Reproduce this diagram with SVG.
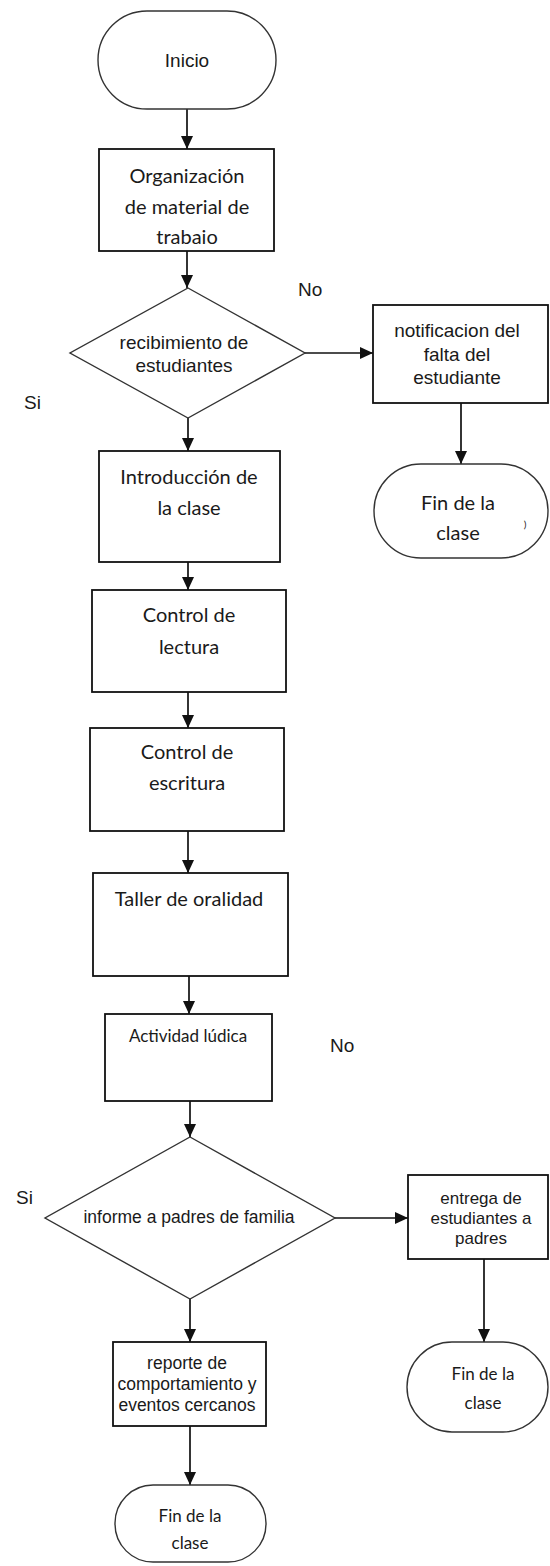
<svg xmlns="http://www.w3.org/2000/svg" width="550" height="1566" viewBox="0 0 550 1566">
<style>
.box{fill:#fff;stroke:#111;stroke-width:1.8}
.dia{fill:#fff;stroke:#333;stroke-width:1.4}
.term{fill:#fff;stroke:#333;stroke-width:1.4}
.c{font-family:Lato,"Open Sans",sans-serif;font-size:20px;fill:#1a1a1a;text-anchor:middle;dominant-baseline:central}
.a{font-family:"Liberation Sans",Arial,sans-serif;font-size:19px;fill:#1a1a1a;text-anchor:middle;dominant-baseline:central}
.lbl{font-family:"Liberation Sans",Arial,sans-serif;font-size:19px;fill:#1a1a1a;dominant-baseline:central}
.conn{stroke:#111;stroke-width:1.7;fill:none;marker-end:url(#arr)}
</style>
<defs>
<marker id="arr" viewBox="0 0 13 12" refX="13" refY="6" markerWidth="13" markerHeight="12" markerUnits="userSpaceOnUse" orient="auto">
<path d="M0,0 L13,6 L0,12 z" fill="#111"/>
</marker>
</defs>
<rect width="550" height="1566" fill="#fff"/>

<g id="connectors">
<line class="conn" x1="187" y1="109" x2="187" y2="149"/>
<line class="conn" x1="187" y1="251" x2="187" y2="288"/>
<line class="conn" x1="188" y1="418" x2="188" y2="451"/>
<line class="conn" x1="305" y1="353" x2="373" y2="353"/>
<line class="conn" x1="461" y1="403" x2="461" y2="464"/>
<line class="conn" x1="188" y1="562" x2="188" y2="590"/>
<line class="conn" x1="188" y1="692" x2="188" y2="728"/>
<line class="conn" x1="188" y1="831" x2="188" y2="873"/>
<line class="conn" x1="189" y1="976" x2="189" y2="1014"/>
<line class="conn" x1="190" y1="1101" x2="190" y2="1137"/>
<line class="conn" x1="335" y1="1218" x2="408" y2="1218"/>
<line class="conn" x1="190" y1="1299" x2="190" y2="1342"/>
<line class="conn" x1="484" y1="1259" x2="484" y2="1342"/>
<line class="conn" x1="190" y1="1426" x2="190" y2="1485"/>
</g>

<g id="labels">
<text class="lbl" x="298" y="289">No</text>
<text class="lbl" x="24" y="402">Si</text>
<text class="lbl" x="330" y="1045">No</text>
<text class="lbl" x="16" y="1197">Si</text>
</g>

<g id="inicio">
<rect class="term" x="98" y="11" width="178" height="98" rx="49" ry="49"/>
<text class="a" x="187" y="60">Inicio</text>
</g>

<g id="organizacion">
<rect class="box" x="99" y="149" width="175" height="102"/>
<text class="c" x="187" y="175">Organización</text>
<text class="c" x="187" y="206">de material de</text>
<text class="c" x="187" y="236">trabaio</text>
</g>

<g id="recibimiento">
<polygon class="dia" points="188,288 305,353 188,418 70,353"/>
<text class="a" x="184" y="342">recibimiento de</text>
<text class="a" x="184" y="365">estudiantes</text>
</g>

<g id="notificacion">
<rect class="box" x="373" y="305" width="175" height="98"/>
<text class="a" x="457" y="330">notificacion del</text>
<text class="a" x="457" y="354">falta del</text>
<text class="a" x="457" y="377">estudiante</text>
</g>

<g id="fin1">
<rect class="term" x="374" y="464" width="174" height="94" rx="47" ry="47"/>
<text class="c" x="458" y="502">Fin de la</text>
<text class="c" x="458" y="532">clase</text>
<text class="c" x="525" y="524" style="font-size:10px">)</text>
</g>

<g id="introduccion">
<rect class="box" x="99" y="451" width="181" height="111"/>
<text class="c" x="189" y="476">Introducción de</text>
<text class="c" x="189" y="507">la clase</text>
</g>

<g id="lectura">
<rect class="box" x="92" y="590" width="194" height="102"/>
<text class="c" x="189" y="614">Control de</text>
<text class="c" x="189" y="646">lectura</text>
</g>

<g id="escritura">
<rect class="box" x="90" y="728" width="194" height="103"/>
<text class="c" x="187" y="751">Control de</text>
<text class="c" x="187" y="782">escritura</text>
</g>

<g id="taller">
<rect class="box" x="93" y="873" width="195" height="103"/>
<text class="c" x="189" y="898">Taller de oralidad</text>
</g>

<g id="actividad">
<rect class="box" x="105" y="1014" width="167" height="87"/>
<text class="c" x="188" y="1035" style="font-size:17px">Actividad lúdica</text>
</g>

<g id="informe">
<polygon class="dia" points="190,1137 335,1218 190,1299 45,1218"/>
<text class="a" x="189" y="1217" style="font-size:17.5px">informe a padres de familia</text>
</g>

<g id="entrega">
<rect class="box" x="408" y="1175" width="140" height="84"/>
<text class="a" x="481" y="1198" style="font-size:17px">entrega de</text>
<text class="a" x="481" y="1218" style="font-size:17px">estudiantes a</text>
<text class="a" x="481" y="1238" style="font-size:17px">padres</text>
</g>

<g id="fin2">
<rect class="term" x="407" y="1342" width="141" height="90" rx="45" ry="45"/>
<text class="c" x="483" y="1373" style="font-size:17px">Fin de la</text>
<text class="c" x="483" y="1402" style="font-size:17px">clase</text>
</g>

<g id="reporte">
<rect class="box" x="113" y="1342" width="153" height="84"/>
<text class="a" x="187" y="1363" style="font-size:17.5px">reporte de</text>
<text class="a" x="187" y="1384" style="font-size:17.5px">comportamiento y</text>
<text class="a" x="187" y="1405" style="font-size:17.5px">eventos cercanos</text>
</g>

<g id="fin3">
<rect class="term" x="115" y="1485" width="151" height="77" rx="38" ry="38"/>
<text class="c" x="190" y="1515" style="font-size:17px">Fin de la</text>
<text class="c" x="190" y="1542" style="font-size:17px">clase</text>
</g>
</svg>
